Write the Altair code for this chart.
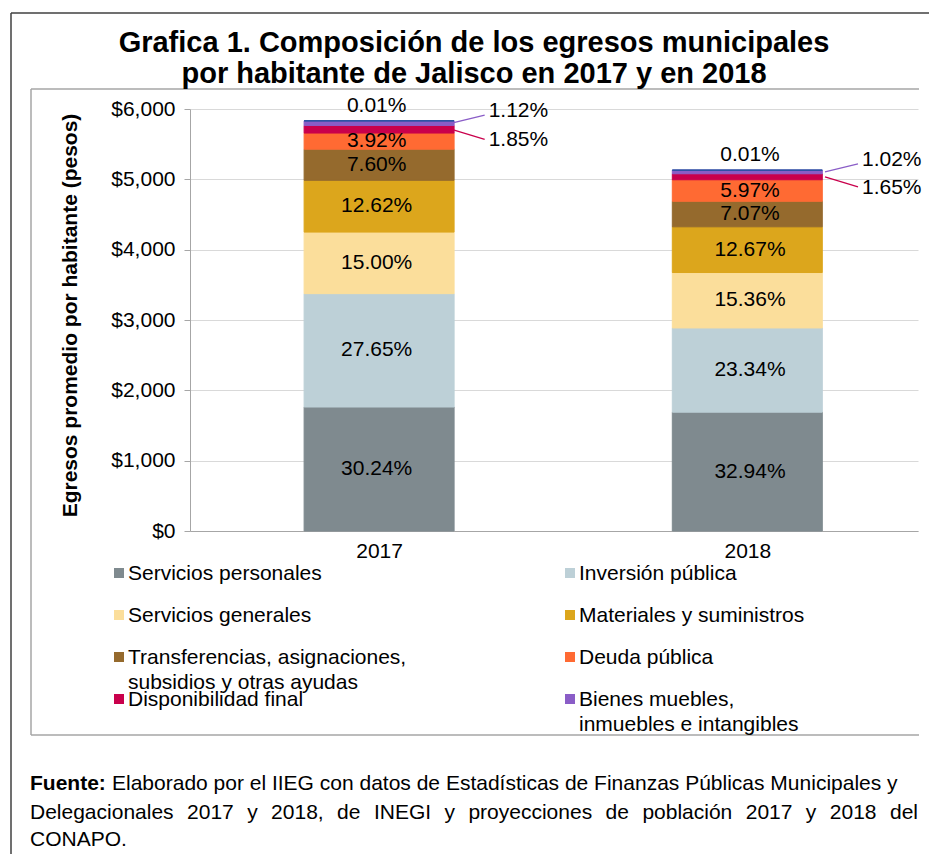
import altair as alt
import pandas as pd

# ---------------- data ----------------
years = [2017, 2018]
categories = [
    "Servicios personales",
    "Inversión pública",
    "Servicios generales",
    "Materiales y suministros",
    "Transferencias, asignaciones, subsidios y otras ayudas",
    "Deuda pública",
    "Disponibilidad final",
    "Bienes muebles, inmuebles e intangibles",
    "Otros egresos",
]
legend_labels = [
    "Servicios personales",
    "Inversión pública",
    "Servicios generales",
    "Materiales y suministros",
    "Transferencias, asignaciones,\nsubsidios y otras ayudas",
    "Deuda pública",
    "Disponibilidad final",
    "Bienes muebles,\ninmuebles e intangibles",
]
colors = ["#7F8A8F", "#BDD0D7", "#FBDE9B", "#DCA61C", "#956A2D",
          "#FF6A33", "#C9004C", "#8A5DC7", "#1F4E9F"]
amounts_2017 = [1763, 1612, 875, 736, 443, 229, 108, 65, 0.6]
amounts_2018 = [1690, 1197, 788, 650, 363, 306, 85, 52, 0.5]
pct_2017 = ["30.24%", "27.65%", "15.00%", "12.62%", "7.60%", "3.92%", "1.85%", "1.12%", "0.01%"]
pct_2018 = ["32.94%", "23.34%", "15.36%", "12.67%", "7.07%", "5.97%", "1.65%", "1.02%", "0.01%"]
y_ticks = [0, 1000, 2000, 3000, 4000, 5000, 6000]

title_text = "Grafica 1. Composición de los egresos municipales\npor habitante de Jalisco en 2017 y en 2018"
y_title = "Egresos promedio por  habitante (pesos)"
source_bold = "Fuente:"
source_line1 = "Elaborado por el IIEG con datos de Estadísticas de Finanzas Públicas Municipales y"
source_line2 = "Delegacionales 2017 y 2018, de INEGI y proyecciones de población 2017 y 2018 del"
source_line3 = "CONAPO."

rows = []
for yr, amts, pcts in ((2017, amounts_2017, pct_2017), (2018, amounts_2018, pct_2018)):
    for i, (c, a, p) in enumerate(zip(categories, amts, pcts)):
        rows.append({"year": yr, "cat": c, "order": i, "amount": a, "pct": p})
df = pd.DataFrame(rows)
leg_df = pd.DataFrame({"cat": categories[:8], "label": legend_labels, "idx": list(range(8))})

# ---------------- layout ----------------
FONT = "Liberation Sans"
W, H = 728, 422
X_DOMAIN = [2016.5, 2018.45]
Y_DOMAIN = [0, 6000]
BAR = 150
px_per_year = W / (X_DOMAIN[1] - X_DOMAIN[0])
usd_per_px = (Y_DOMAIN[1] - Y_DOMAIN[0]) / H


def xs():
    return alt.Scale(domain=X_DOMAIN, nice=False, zero=False, range=[0, W])


def ys():
    return alt.Scale(domain=Y_DOMAIN, nice=False, zero=True, range=[H, 0])


color_scale = alt.Scale(domain=categories, range=colors)

base = alt.Chart(df).transform_stack(
    stack="amount", groupby=["year"], as_=["y0", "y1"],
    sort=[alt.SortField("order", order="ascending")]
).transform_calculate(mid="(datum.y0 + datum.y1) / 2")

x_axis = alt.Axis(values=years, format="d", title=None, grid=False, ticks=False,
                  labelFont=FONT, labelFontSize=21, labelColor="#000", labelPadding=9,
                  domainColor="#A6A6A6", domainWidth=1)
y_axis = alt.Axis(values=y_ticks, format="$,.0f", title=y_title,
                  titleFont=FONT, titleFontSize=21, titleFontWeight="bold", titleColor="#000",
                  titleX=-120, titleY=206, titleAngle=270, titleAlign="center",
                  titleBaseline="middle",
                  labelFont=FONT, labelFontSize=21, labelColor="#000", labelPadding=9,
                  tickSize=6, tickColor="#A6A6A6", domainColor="#A6A6A6",
                  grid=True, gridColor="#D9D9D9", gridWidth=1)

bars = base.mark_bar(size=BAR, orient="vertical", strokeWidth=1).encode(
    x=alt.X("year:Q", scale=xs(), axis=x_axis),
    y=alt.Y("y0:Q", scale=ys(), axis=y_axis),
    y2="y1:Q",
    color=alt.Color("cat:N", scale=color_scale, legend=None),
    stroke=alt.Stroke("cat:N", scale=color_scale, legend=None),
)

txt_kw = dict(font=FONT, fontSize=21, color="#000", baseline="middle")


def xq():
    return alt.X("year:Q", scale=xs(), axis=None)


inner = base.transform_filter("datum.order < 6").mark_text(**txt_kw).encode(
    x=xq(), y=alt.Y("mid:Q", scale=ys(), axis=None), text="pct:N")
top_lbl = base.transform_filter("datum.order == 8").mark_text(dy=-15, **txt_kw).encode(
    x=xq(), y=alt.Y("y1:Q", scale=ys(), axis=None), text="pct:N")
bm_lbl = base.transform_filter("datum.order == 7").mark_text(align="left", dx=112, dy=-12, **txt_kw).encode(
    x=xq(), y=alt.Y("mid:Q", scale=ys(), axis=None), text="pct:N")
df_lbl = base.transform_filter("datum.order == 6").mark_text(align="left", dx=112, dy=11, **txt_kw).encode(
    x=xq(), y=alt.Y("mid:Q", scale=ys(), axis=None), text="pct:N")

leaders = base.transform_filter("datum.order == 6 || datum.order == 7").transform_calculate(
    lx1=f"datum.year + {BAR / 2 / px_per_year}",
    lx2=f"datum.year + {108 / px_per_year}",
    ly2=f"datum.mid + (datum.order == 7 ? {8 * usd_per_px} : {-10 * usd_per_px})",
).mark_rule(strokeWidth=1.3).encode(
    x=alt.X("lx1:Q", scale=xs(), axis=None),
    x2="lx2:Q",
    y=alt.Y("mid:Q", scale=ys(), axis=None),
    y2="ly2:Q",
    color=alt.Color("cat:N", scale=color_scale, legend=None),
)

# ---------------- legend (own scales) ----------------
leg_base = alt.Chart(leg_df).transform_calculate(
    col="datum.idx % 2", row="floor(datum.idx / 2)")


def lx():
    return alt.X("col:Q", scale=alt.Scale(domain=[0, 1], range=[-71, 380]), axis=None)


def ly():
    return alt.Y("row:Q", scale=alt.Scale(domain=[0, 3], range=[464, 590]), axis=None)


leg_sq = leg_base.mark_square(size=100, opacity=1).encode(
    x=lx(), y=ly(), color=alt.Color("cat:N", scale=color_scale, legend=None))
leg_txt = leg_base.mark_text(align="left", baseline="top", dx=9, dy=-10, lineBreak="\n",
                             lineHeight=25, font=FONT, fontSize=21, color="#000").encode(
    x=lx(), y=ly(), text="label:N")

# ---------------- decorations & texts ----------------
one = pd.DataFrame({"a": [0]})


def hline(x1, x2, y, color, w):
    return alt.Chart(one).mark_rule(color=color, strokeWidth=w).encode(
        x=alt.value(x1), x2=alt.value(x2), y=alt.value(y))


def vline(x, y1, y2, color, w):
    return alt.Chart(one).mark_rule(color=color, strokeWidth=w).encode(
        x=alt.value(x), y=alt.value(y1), y2=alt.value(y2))


frame = [
    hline(-179, 760, -96, "#404040", 1.5),
    vline(-179, -96, 760, "#404040", 1.5),
    hline(-159, 729, -20, "#A6A6A6", 1.5),
    vline(-159, -20, 626, "#A6A6A6", 1.5),
    hline(-159, 729, 626, "#A6A6A6", 1.5),
]

title = alt.Chart(pd.DataFrame({"t": [title_text]})).mark_text(
    align="center", baseline="top", lineBreak="\n", lineHeight=31,
    font=FONT, fontSize=29, fontWeight="bold", color="#000").encode(
    text="t:N", x=alt.value(284), y=alt.value(-80))


def note(t, x, y, bold=False):
    return alt.Chart(pd.DataFrame({"t": [t]})).mark_text(
        align="left", baseline="middle", font=FONT, fontSize=21,
        fontWeight="bold" if bold else "normal", color="#000").encode(
        text="t:N", x=alt.value(x), y=alt.value(y))


line2_wide = source_line2.replace(" ", "\u2007\u200a")
notes = [
    note(source_bold, -160, 675, bold=True),
    note(source_line1, -78, 675),
    note(line2_wide, -160, 704),
    note(source_line3, -160, 731),
]

chart = alt.layer(
    *frame, bars, leaders, inner, top_lbl, bm_lbl, df_lbl, leg_sq, leg_txt, title, *notes
).resolve_scale(
    x="independent", y="independent"
).properties(
    width=W, height=H,
    autosize=alt.AutoSizeParams(type="none"),
    padding={"left": 182, "top": 101, "right": 11, "bottom": 323},
    background="white",
).configure_view(strokeWidth=0)

chart.save("out.html", embed_options={"renderer": "svg", "actions": False})
